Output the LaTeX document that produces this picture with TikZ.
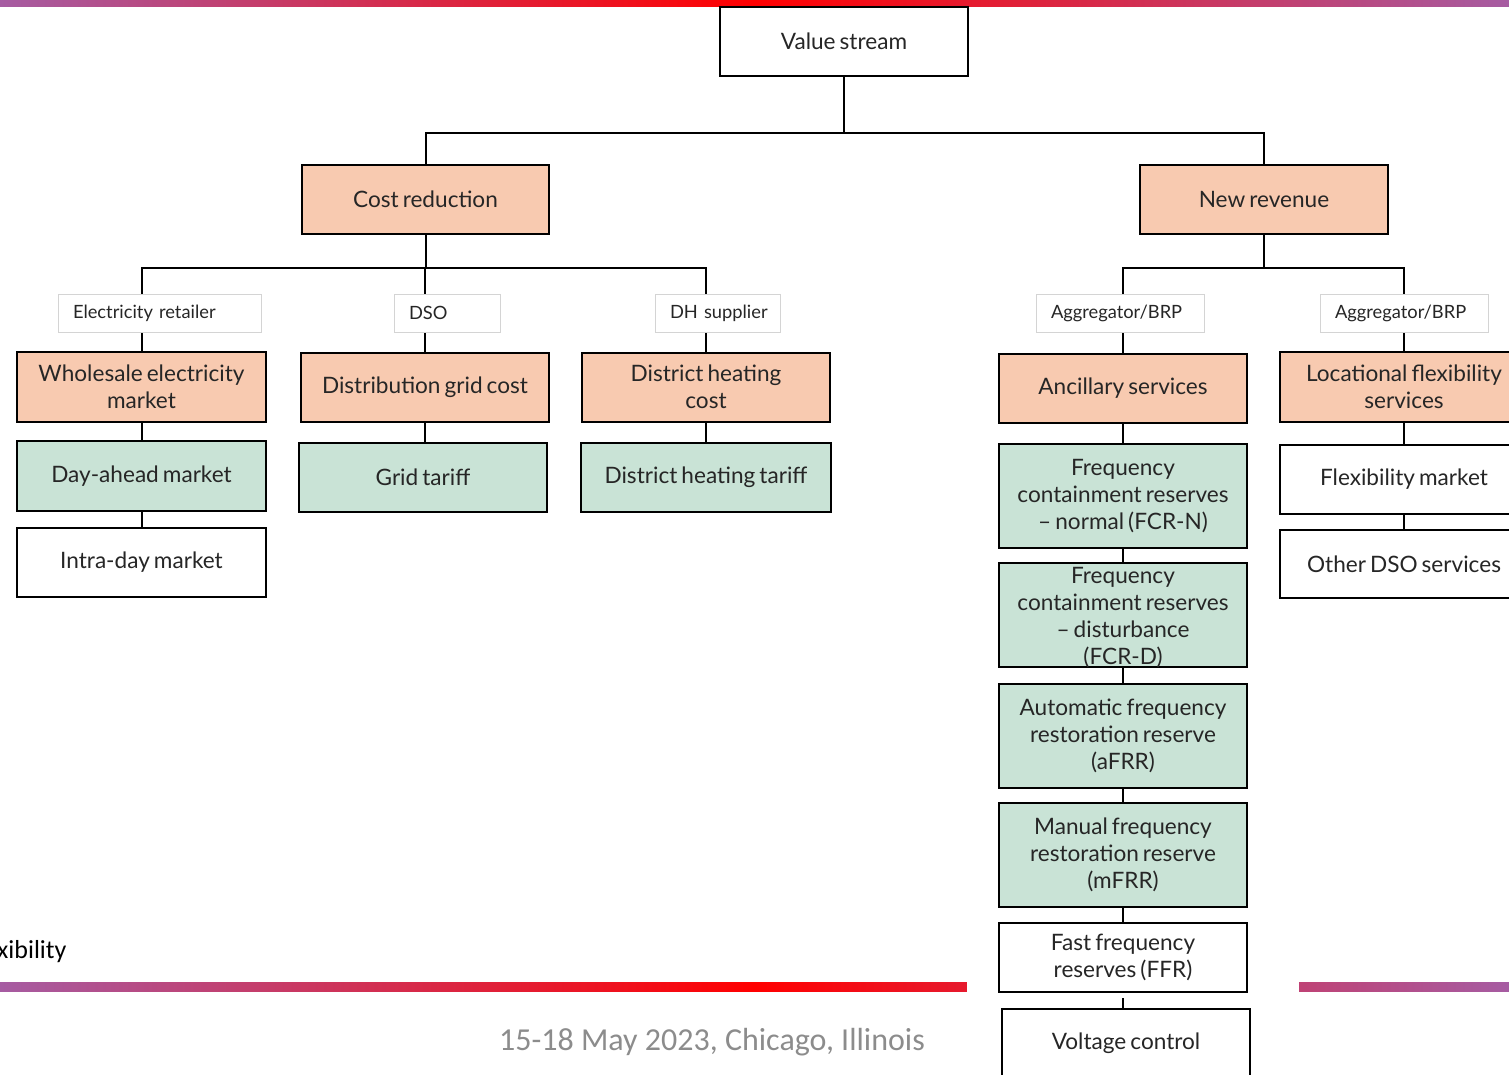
\documentclass[tikz,border=0pt]{standalone}
\usepackage{fontspec}
\setmainfont{Lato}[WordSpace=0.7]
\newfontfamily\carlito{Carlito}
\usetikzlibrary{calc}
\definecolor{salmon}{RGB}{248,202,176}
\definecolor{mint}{RGB}{201,227,214}
\definecolor{barpurple}{RGB}{166,92,162}
\definecolor{lblgrey}{RGB}{212,212,212}
\definecolor{footgrey}{RGB}{140,140,140}
\definecolor{ink}{RGB}{38,38,38}
\pgfdeclarelayer{bg}\pgfsetlayers{bg,main}
\newcommand{\lbltext}[1]{\makebox[\linewidth][l]{#1}}
\begin{document}
\begin{tikzpicture}[x=1pt,y=-1pt,
 box/.style={draw=black,line width=2pt,minimum width=248pt,minimum height=69pt,inner sep=0pt,align=center,font=\fontsize{22.6}{27}\selectfont,text=ink},
 tall/.style={box,minimum height=104pt},
 cost/.style={fill=salmon},
 mkt/.style={fill=mint},
 plain/.style={fill=white},
 lbl/.style={draw=lblgrey,line width=1pt,fill=white,minimum height=38pt,inner ysep=0pt,inner xsep=15pt,align=left,font=\fontsize{18.3}{21}\selectfont,text=ink},
 link/.style={line width=2pt,black}]
\useasboundingbox (0,0) rectangle (1509,1074);
% gradient bars
\shade[left color=barpurple,right color=barpurple,middle color=red] (0,0) rectangle (1509,6);
\shade[left color=barpurple,right color=barpurple,middle color=red] (0,982) rectangle (1509,991);
\fill[white] (967,975) rectangle (1299,998);
% footer texts
\node[anchor=west,inner sep=0pt,font=\carlito\fontsize{26}{30}\selectfont] (xib) at (-3,952) {xibility};
\node[inner sep=0pt,font=\carlito\fontsize{32}{36}\selectfont,text=footgrey] (foot) at (712,1042) {15-18 May 2023, Chicago, Illinois};
% top
\node[box,plain] (vs) at (844,41.5) {Value stream};
\node[box,cost,minimum width=247pt] (cr) at (425.5,199.5) {Cost reduction};
\node[box,cost] (nr) at (1264,199.5) {New revenue};
% labels
\node[lbl,text width=173pt] (l1) at (159.5,313) {\lbltext{Electricity retailer}};
\node[lbl,text width=76pt] (l2) at (447,313) {\lbltext{DSO}};
\node[lbl,text width=95pt] (l3) at (717.5,313) {\lbltext{DH supplier}};
\node[lbl,text width=138pt] (l4) at (1120,313) {\lbltext{Aggregator/BRP}};
\node[lbl,text width=138pt] (l5) at (1404,313) {\lbltext{Aggregator/BRP}};
% cost reduction branch
\node[box,cost,minimum width=249pt,minimum height=70pt] (wm) at (141.5,387) {Wholesale electricity\\market};
\node[box,cost] (dg) at (425,387) {Distribution grid cost};
\node[box,cost] (dh) at (706,387) {District heating\\cost};
\node[box,mkt,minimum width=249pt,minimum height=70pt] (da) at (141.5,476) {Day-ahead market};
\node[box,mkt] (gt) at (423,477.5) {Grid tariff};
\node[box,mkt,minimum width=250pt] (dht) at (706,477.5) {District heating tariff};
\node[box,plain,minimum width=249pt] (idm) at (141.5,562.5) {Intra-day market};
% new revenue branch
\node[box,cost] (anc) at (1123,388.5) {Ancillary services};
\node[box,cost,minimum height=70pt] (lf) at (1404,387) {Locational flexibility\\services};
\node[box,plain] (fm) at (1404,479.5) {Flexibility market};
\node[box,plain,minimum height=68pt] (od) at (1404,564) {Other DSO services};
\node[box,tall,mkt] (fcrn) at (1123,496) {Frequency\\containment reserves\\– normal (FCR-N)};
\node[box,tall,mkt] (fcrd) at (1123,615) {};
\node[inner sep=0pt,align=center,font=\fontsize{22.6}{27}\selectfont,text=ink] (fcrdtext) at (1123,618) {Frequency\\containment reserves\\– disturbance\\(FCR-D)};
\node[box,tall,mkt] (afrr) at (1123,736) {Automatic frequency\\restoration reserve\\(aFRR)};
\node[box,tall,mkt] (mfrr) at (1123,855) {Manual frequency\\restoration reserve\\(mFRR)};
\node[box,plain] (ffr) at (1123,957.5) {Fast frequency\\reserves (FFR)};
\node[box,plain] (vc) at (1126,1043.5) {Voltage control};
% connectors
\begin{pgfonlayer}{bg}
\draw[link] (vs.south) -- ++(0,56) coordinate (j0);
\draw[link] (j0) -| (cr.north);
\draw[link] (j0) -| (nr.north);
\draw[link] (cr.south) -- ++(0,33) coordinate (j1);
\draw[link] (j1) -| (wm.north);
\draw[link] (j1) -| (dg.north);
\draw[link] (j1) -| (dh.north);
\draw[link] (nr.south) -- ++(0,33) coordinate (j2);
\draw[link] (j2) -| (anc.north);
\draw[link] (j2) -| (lf.north);
\draw[link] (wm.south) -- (wm.south |- da.north);
\draw[link] (da.south) -- (da.south |- idm.north);
\draw[link] (dg.south) -- (dg.south |- gt.north);
\draw[link] (dh.south) -- (dh.south |- dht.north);
\draw[link] (anc.south) -- (anc.south |- fcrn.north);
\draw[link] (fcrn.south) -- (fcrn.south |- fcrd.north);
\draw[link] (fcrd.south) -- (fcrd.south |- afrr.north);
\draw[link] (afrr.south) -- (afrr.south |- mfrr.north);
\draw[link] (mfrr.south) -- (mfrr.south |- ffr.north);
\draw[link] (ffr.south) -- (ffr.south |- vc.north);
\draw[link] (lf.south) -- (lf.south |- fm.north);
\draw[link] (fm.south) -- (fm.south |- od.north);
\end{pgfonlayer}
\end{tikzpicture}
\end{document}
